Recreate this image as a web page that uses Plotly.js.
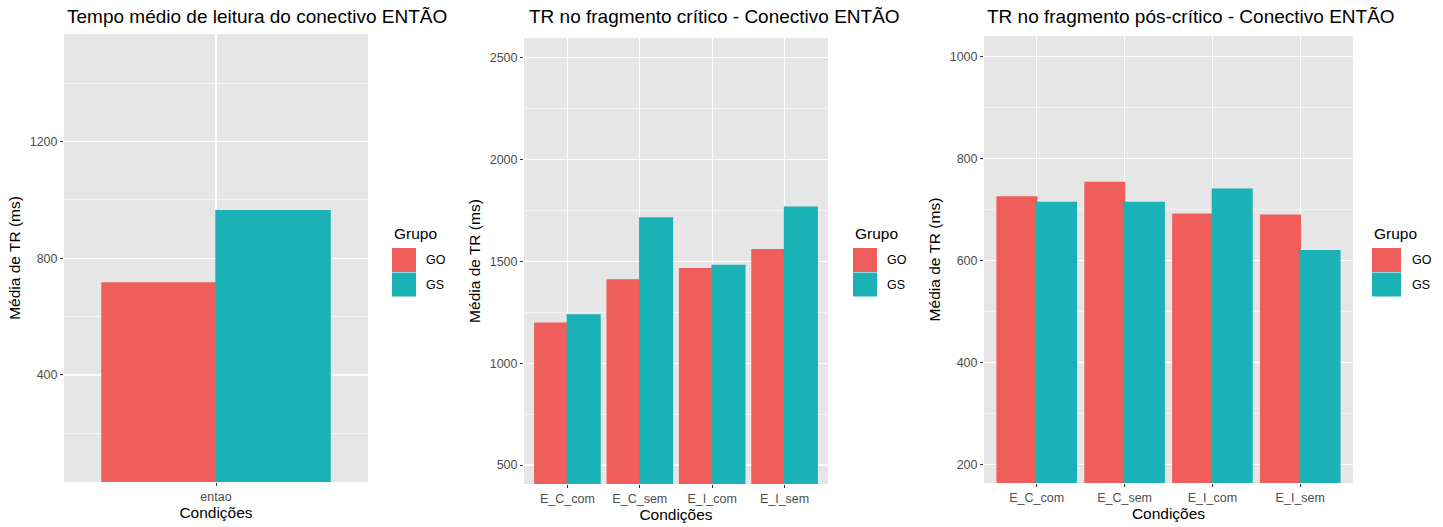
<!DOCTYPE html>
<html>
<head>
<meta charset="utf-8">
<script src="https://cdn.plot.ly/plotly-3.0.1.min.js"></script>
<style>html,body{margin:0;padding:0;background:#fff;}#chart{width:1443px;height:527px;}</style>
</head>
<body>
<div id="chart"></div>
<script>
// ---------- data ----------
const groups = ['GO', 'GS'];
const cond1 = ['entao'];
const leitura_GO = [715];
const leitura_GS = [963];

const conds = ['E_C_com', 'E_C_sem', 'E_I_com', 'E_I_sem'];
const critico_GO = [1196, 1408, 1463, 1557];
const critico_GS = [1237, 1713, 1479, 1765];

const poscritico_GO = [725, 753, 691, 689];
const poscritico_GS = [714, 714, 740, 619];

const titles = [
  'Tempo médio de leitura do conectivo ENTÃO',
  'TR no fragmento crítico - Conectivo ENTÃO',
  'TR no fragmento pós-crítico - Conectivo ENTÃO'
];
const yTitle = 'Média de TR (ms)';
const xTitle = 'Condições';
const legendTitle = 'Grupo';

// ---------- style ----------
const W = 1443, H = 527;
const colors = {GO: '#EF5E5A', GS: '#1BB2B7'};
const FONT = 'Liberation Sans, Arial, sans-serif';
const px = v => v / W;
const py = v => 1 - v / H;

const traces = [];
function addPair(xs, go, gs, n) {
  const ax = n === 1 ? '' : String(n);
  [['GO', go], ['GS', gs]].forEach(([g, vals]) => {
    traces.push({type: 'bar', x: xs, y: vals, name: g,
      marker: {color: colors[g], line: {color: colors[g], width: 1.5}},
      xaxis: 'x' + ax, yaxis: 'y' + ax, showlegend: false, hoverinfo: 'x+y+name'});
  });
}
addPair(cond1, leitura_GO, leitura_GS, 1);
addPair(conds, critico_GO, critico_GS, 2);
addPair(conds, poscritico_GO, poscritico_GS, 3);

function xax(l, r, nCat) {
  return {
    domain: [px(l), px(r)], type: 'category', range: [-0.6, nCat - 1 + 0.6],
    showgrid: true, gridcolor: '#FFFFFF', gridwidth: 1.1,
    ticks: 'outside', ticklen: 3, tickcolor: '#333333', tickwidth: 1,
    tickfont: {family: FONT, size: 12.5, color: '#4D4D4D'},
    showline: false, zeroline: false, fixedrange: true,
    title: {text: xTitle, font: {family: FONT, size: 15.5, color: '#000'}, standoff: 2}
  };
}
function yax(t, b, range, dtick, anchorX) {
  return {
    domain: [py(b), py(t)], range: range, anchor: anchorX,
    tickmode: 'linear', tick0: 0, dtick: dtick,
    showgrid: true, gridcolor: '#FFFFFF', gridwidth: 1.1,
    minor: {tickmode: 'linear', tick0: dtick / 2, dtick: dtick, showgrid: true, gridcolor: '#FFFFFF', gridwidth: 0.5, ticks: ''},
    ticks: 'outside', ticklen: 3, tickcolor: '#333333', tickwidth: 1,
    tickfont: {family: FONT, size: 12.5, color: '#4D4D4D'},
    showline: false, zeroline: false, fixedrange: true,
    title: {text: yTitle, font: {family: FONT, size: 15.5, color: '#000'}, standoff: 5}
  };
}

const layout = {
  width: W, height: H,
  margin: {l: 0, r: 0, t: 0, b: 0, pad: 0},
  paper_bgcolor: '#FFFFFF', plot_bgcolor: '#E6E6E6',
  barmode: 'group', bargap: 0.1, bargroupgap: 0,
  showlegend: false,
  font: {family: FONT},
  xaxis: Object.assign(xax(64, 368, cond1.length), {anchor: 'y'}),
  yaxis: yax(34, 482, [33, 1569], 400, 'x'),
  xaxis2: Object.assign(xax(524, 828, conds.length), {anchor: 'y2'}),
  yaxis2: yax(38, 484, [407, 2596], 500, 'x2'),
  xaxis3: Object.assign(xax(984, 1353, conds.length), {anchor: 'y3'}),
  yaxis3: yax(36, 483, [163, 1041], 200, 'x3'),
  shapes: [], annotations: []
};

// panel titles
const titleX = [65, 527, 985];
titles.forEach((t, i) => {
  layout.annotations.push({text: t, xref: 'paper', yref: 'paper', x: px(titleX[i]), y: py(17),
    xanchor: 'left', yanchor: 'middle', showarrow: false,
    font: {family: FONT, size: 19, color: '#000'}});
});

// legends (one per panel)
const legends = [
  {kx: 392, kw: 24, lx: 424},
  {kx: 853, kw: 24, lx: 885},
  {kx: 1372, kw: 29, lx: 1410}
];
legends.forEach(lg => {
  layout.annotations.push({text: legendTitle, xref: 'paper', yref: 'paper', x: px(lg.kx), y: py(233),
    xanchor: 'left', yanchor: 'middle', showarrow: false, font: {family: FONT, size: 15.5, color: '#000'}});
  groups.forEach((g, j) => {
    const top = 248 + j * 24.5, bot = top + 24;
    layout.shapes.push({type: 'rect', xref: 'paper', yref: 'paper', x0: px(lg.kx), x1: px(lg.kx + lg.kw),
      y0: py(bot), y1: py(top), fillcolor: colors[g], line: {width: 0}});
    layout.annotations.push({text: g, xref: 'paper', yref: 'paper', x: px(lg.lx), y: py((top + bot) / 2),
      xanchor: 'left', yanchor: 'middle', showarrow: false, font: {family: FONT, size: 12.5, color: '#000'}});
  });
});

Plotly.newPlot('chart', traces, layout, {displayModeBar: false, staticPlot: true});
</script>
</body>
</html>
